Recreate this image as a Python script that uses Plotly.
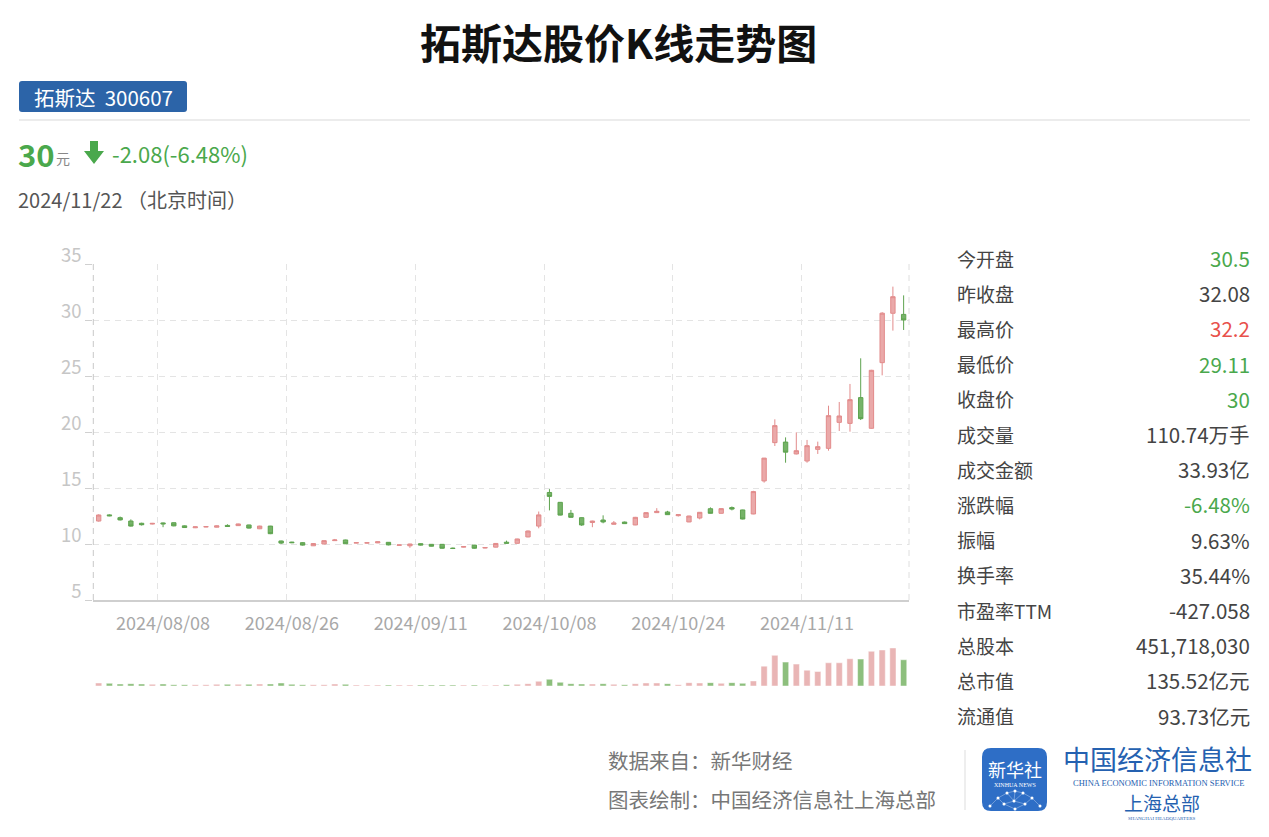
import plotly.graph_objects as go
import pandas as pd

W, H = 1269, 837

# ---------------- data ----------------
holidays = ["2024-09-16", "2024-09-17", "2024-10-01", "2024-10-02",
            "2024-10-03", "2024-10-04", "2024-10-07"]
dates = [d.strftime("%Y/%m/%d") for d in pd.bdate_range("2024-07-31", "2024-11-22")
         if d.strftime("%Y-%m-%d") not in holidays]

tick_dates = ["2024/08/08", "2024/08/26", "2024/09/11", "2024/10/08", "2024/10/24", "2024/11/11"]

opens = [12.05, 12.60, 12.35, 12.05, 11.85, 11.78, 11.88, 11.90, 11.62, 11.45,
         11.52, 11.50, 11.66, 11.64, 11.70, 11.36, 11.60, 10.27, 10.17, 10.12,
         9.84, 10.00, 10.30, 10.36, 10.08, 10.08, 10.10, 10.15, 9.88, 9.84,
         10.03, 9.97, 9.97, 9.63, 9.72, 9.90, 9.64, 9.72, 10.16, 10.06,
         10.63, 11.60, 14.60, 13.72, 12.74, 12.35, 11.92, 12.14, 11.76, 11.96,
         11.70, 12.38, 12.80, 12.86, 12.53, 11.97, 12.32, 13.15, 12.74, 13.25,
         13.04, 12.68, 15.63, 19.05, 19.10, 18.04, 17.41, 18.45, 18.54, 20.86,
         20.77, 23.07, 20.33, 26.19, 30.60, 30.50]
highs = [12.65, 12.65, 12.45, 12.20, 11.90, 11.88, 11.92, 11.92, 11.65, 11.55,
         11.57, 11.65, 11.76, 11.82, 11.72, 11.63, 11.62, 10.30, 10.20, 10.15,
         10.08, 10.32, 10.45, 10.38, 10.14, 10.13, 10.22, 10.17, 9.94, 10.02,
         10.05, 9.99, 9.99, 9.68, 9.80, 9.92, 9.70, 10.07, 10.30, 10.47,
         11.20, 12.90, 14.90, 13.75, 13.04, 12.37, 12.08, 12.56, 12.05, 12.00,
         12.42, 12.84, 13.20, 12.96, 12.64, 12.52, 12.85, 13.27, 13.18, 13.35,
         13.06, 14.75, 17.68, 21.13, 19.52, 19.97, 19.29, 19.14, 22.35, 22.68,
         24.29, 26.58, 25.55, 30.70, 32.98, 32.20]
lows = [12.00, 12.48, 12.10, 11.55, 11.65, 11.75, 11.50, 11.58, 11.44, 11.42,
        11.50, 11.48, 11.55, 11.62, 11.38, 11.33, 10.88, 10.00, 10.08, 9.86,
        9.82, 9.98, 10.28, 10.00, 10.06, 10.06, 10.08, 9.88, 9.86, 9.66,
        9.86, 9.78, 9.58, 9.55, 9.70, 9.58, 9.62, 9.70, 10.04, 10.04,
        10.60, 11.40, 13.00, 12.55, 12.36, 11.62, 11.50, 11.85, 11.74, 11.80,
        11.68, 12.36, 12.78, 12.60, 12.45, 11.95, 12.20, 12.72, 12.72, 13.00,
        12.20, 12.66, 15.48, 18.75, 17.26, 18.00, 17.26, 18.04, 18.33, 20.09,
        20.03, 21.07, 20.30, 25.06, 29.05, 29.11]
closes = [12.59, 12.52, 12.15, 11.60, 11.72, 11.84, 11.80, 11.62, 11.47, 11.53,
          11.55, 11.62, 11.57, 11.79, 11.42, 11.60, 10.92, 10.08, 10.12, 9.90,
          10.04, 10.30, 10.36, 10.02, 10.12, 10.11, 10.20, 9.92, 9.92, 10.00,
          9.90, 9.80, 9.62, 9.60, 9.77, 9.62, 9.68, 10.05, 10.07, 10.45,
          11.16, 12.60, 14.25, 12.58, 12.38, 11.70, 12.05, 11.97, 11.88, 11.82,
          12.38, 12.80, 12.92, 12.62, 12.62, 12.50, 12.83, 12.74, 13.16, 13.12,
          12.23, 14.68, 17.67, 20.57, 18.20, 18.33, 18.78, 18.69, 21.46, 21.43,
          22.89, 21.19, 25.51, 30.61, 32.08, 30.00]
# volume in 万手
volumes = [12.8, 11.4, 8.5, 9.9, 8.5, 7.1, 8.5, 5.7, 5.7, 5.7,
           5.7, 7.1, 7.1, 7.1, 7.1, 8.5, 8.5, 12.8, 7.1, 5.7,
           5.7, 5.7, 8.5, 7.1, 4.3, 4.3, 4.3, 4.3, 4.3, 4.3,
           4.3, 4.3, 4.3, 4.3, 4.3, 4.3, 2.8, 4.3, 5.7, 7.1,
           9.9, 19.9, 28.4, 15.6, 9.9, 8.5, 8.5, 9.9, 7.1, 5.7,
           9.9, 12.8, 12.8, 9.9, 5.7, 14.2, 12.8, 14.2, 11.4, 14.2,
           11.4, 21.3, 83.8, 129.2, 100.8, 92.3, 66.7, 61.1, 98.0, 98.0,
           115.0, 113.6, 146.3, 152.0, 160.5, 110.74]

table_labels = ["今开盘", "昨收盘", "最高价", "最低价", "收盘价", "成交量", "成交金额",
                "涨跌幅", "振幅", "换手率", "市盈率TTM", "总股本", "总市值", "流通值"]
table_values = ["30.5", "32.08", "32.2", "29.11", "30", "110.74万手", "33.93亿",
                "-6.48%", "9.63%", "35.44%", "-427.058", "451,718,030", "135.52亿元", "93.73亿元"]
table_kinds = ["down", "flat", "up", "down", "down", "flat", "flat",
               "down", "flat", "flat", "flat", "flat", "flat", "flat"]

# ---------------- styles ----------------
FONT = "Noto Sans CJK SC"
RED_FILL, RED_LINE = "#eaa9a9", "#e28b8b"
GREEN_FILL, GREEN_LINE = "#76b368", "#5ea34f"
VOL_RED, VOL_GREEN = "#e9b5b5", "#8dbf7d"
GREEN_TXT, RED_TXT = "#4aa84c", "#e8514b"
GRID = "#e4e4e4"
DASH = "6px,5px"


def px(x):
    return x / W


def py(y):
    return 1 - y / H


def rrect(x0, y0, x1, y1, r):
    pts = [("M", x0 + r, y0), ("L", x1 - r, y0), ("Q", x1, y0, x1, y0 + r),
           ("L", x1, y1 - r), ("Q", x1, y1, x1 - r, y1), ("L", x0 + r, y1),
           ("Q", x0, y1, x0, y1 - r), ("L", x0, y0 + r), ("Q", x0, y0, x0 + r, y0)]
    s = ""
    for p in pts:
        if p[0] == "Q":
            s += f"Q {px(p[1])},{py(p[2])} {px(p[3])},{py(p[4])} "
        else:
            s += f"{p[0]} {px(p[1])},{py(p[2])} "
    return s + "Z"


fig = go.Figure()

# helper trace so the grid-only overlay axis (x3) is drawn
fig.add_trace(go.Scatter(x=[0], y=[None], xaxis="x3", yaxis="y", mode="markers",
                         showlegend=False, hoverinfo="skip"))

fig.add_trace(go.Candlestick(
    x=dates, open=opens, high=highs, low=lows, close=closes,
    increasing=dict(line=dict(color=RED_LINE, width=1), fillcolor=RED_FILL),
    decreasing=dict(line=dict(color=GREEN_LINE, width=1), fillcolor=GREEN_FILL),
    whiskerwidth=0, xaxis="x", yaxis="y", showlegend=False, hoverinfo="x+y"))

vol_colors = [VOL_RED if c >= o else VOL_GREEN for o, c in zip(opens, closes)]
fig.add_trace(go.Bar(
    x=dates, y=volumes, marker=dict(color=vol_colors, line=dict(color="rgba(255,255,255,0.6)", width=0.8)),
    xaxis="x2", yaxis="y2", showlegend=False))

x_dom = [px(93.3), px(909)]
# band boundaries to the left of each labelled day (where the vertical grid lines sit)
grid_pos = [dates.index(d) - 0.5 for d in tick_dates]

fig.update_layout(
    width=W, height=H, autosize=False,
    margin=dict(l=0, r=0, t=0, b=0, pad=0, autoexpand=False),
    paper_bgcolor="white", plot_bgcolor="white",
    showlegend=False,
    font=dict(family=FONT, color="#444"),
    boxgap=0.42, bargap=0.42,
    xaxis=dict(domain=x_dom, anchor="y", type="category",
               categoryorder="array", categoryarray=dates,
               range=[-0.5, len(dates) - 0.5],
               tickmode="array", tickvals=tick_dates, ticktext=tick_dates,
               ticks="", tickangle=0, automargin=False, ticklabelstandoff=7,
               showgrid=False,
               showline=True, linecolor="#cfcfcf", linewidth=1.5,
               tickfont=dict(size=18, color="#a8a8a8", family=FONT),
               rangeslider=dict(visible=False), fixedrange=True),
    xaxis3=dict(overlaying="x", anchor="y", type="linear",
                range=[-0.5, len(dates) - 0.5],
                tickmode="array", tickvals=grid_pos, showticklabels=False, ticks="",
                showgrid=True, gridcolor=GRID, griddash=DASH, gridwidth=1,
                showline=False, zeroline=False, automargin=False, fixedrange=True),
    yaxis=dict(domain=[py(600), py(264)], anchor="x", range=[5, 35],
               tickmode="array", tickvals=[5, 10, 15, 20, 25, 30, 35],
               showgrid=True, gridcolor=GRID, griddash=DASH, gridwidth=1,
               zeroline=False, ticks="outside", ticklen=7, tickcolor="#d0d0d0",
               tickfont=dict(size=18.5, color="#c6c6c6", family=FONT),
               ticklabelshift=-8, automargin=False, fixedrange=True),
    xaxis2=dict(domain=x_dom, anchor="y2", type="category",
                categoryorder="array", categoryarray=dates, matches="x",
                showticklabels=False, showgrid=False, ticks="", showline=False,
                automargin=False),
    yaxis2=dict(domain=[py(686), py(645.7)], anchor="x2", range=[0, 170],
                visible=False, automargin=False, fixedrange=True),
)

shapes = []
# plot side borders (dashed)
shapes.append(dict(type="line", xref="paper", yref="paper", x0=px(93.3), x1=px(93.3),
                   y0=py(600), y1=py(264), line=dict(color="#c8c8c8", width=1, dash=DASH)))
shapes.append(dict(type="line", xref="paper", yref="paper", x0=px(909), x1=px(909),
                   y0=py(600), y1=py(264), line=dict(color="#dedede", width=1, dash=DASH)))
# badge
shapes.append(dict(type="path", xref="paper", yref="paper", path=rrect(19, 81, 187, 112, 3),
                   fillcolor="#2c64a8", line=dict(width=0)))
# separator
shapes.append(dict(type="line", xref="paper", yref="paper", x0=px(19), x1=px(1250),
                   y0=py(120), y1=py(120), line=dict(color="#e6e6e6", width=1.5)))
# green down arrow
arrow = [(90, 141), (98, 141), (98, 151), (104, 151), (94, 164), (84, 151), (90, 151)]
shapes.append(dict(type="path", xref="paper", yref="paper",
                   path="M " + " L ".join(f"{px(a)},{py(b)}" for a, b in arrow) + " Z",
                   fillcolor=GREEN_TXT, line=dict(width=0)))
# footer divider
shapes.append(dict(type="line", xref="paper", yref="paper", x0=px(965), x1=px(965),
                   y0=py(750), y1=py(810), line=dict(color="#dddddd", width=1)))
# logo square
shapes.append(dict(type="path", xref="paper", yref="paper", path=rrect(982, 748, 1047, 811, 9),
                   fillcolor="#2e6ec6", line=dict(width=0)))
# logo network
nodes = [(990, 806), (998, 798), (1007, 793), (1015, 791), (1023, 793), (1032, 798), (1040, 806),
         (1004, 804), (1014, 801), (1025, 804), (1015, 809)]
edges = [(0, 1), (1, 2), (2, 3), (3, 4), (4, 5), (5, 6), (1, 7), (2, 8), (4, 8), (5, 9),
         (7, 8), (8, 9), (7, 10), (9, 10), (3, 8)]
for a, b in edges:
    shapes.append(dict(type="line", xref="paper", yref="paper",
                       x0=px(nodes[a][0]), y0=py(nodes[a][1]), x1=px(nodes[b][0]), y1=py(nodes[b][1]),
                       line=dict(color="rgba(255,255,255,0.45)", width=0.7)))
for (a, b) in nodes:
    shapes.append(dict(type="circle", xref="paper", yref="paper",
                       x0=px(a - 1.5), x1=px(a + 1.5), y0=py(b + 1.5), y1=py(b - 1.5),
                       fillcolor="white", line=dict(width=0)))
fig.update_layout(shapes=shapes)

ann = []


def text(x, y, s, size, color="#444", anchor="left", family=FONT):
    ann.append(dict(x=px(x), y=py(y), xref="paper", yref="paper", text=s, showarrow=False,
                    xanchor=anchor, yanchor="middle", borderpad=0,
                    font=dict(size=size, color=color, family=family)))


text(618, 41, "<b>拓斯达股价K线走势图</b>", 41, "#111111", "center")
text(103, 97, "拓斯达  300607", 20.5, "white", "center")
text(17, 153, "<b>30</b>", 31, GREEN_TXT)
text(55, 158, "元", 14, "#888888")
text(111, 153, "-2.08(-6.48%)", 22, GREEN_TXT)
text(17, 199, "2024/11/22 （北京时间）", 20, "#555555")

for i, (lab, val, kind) in enumerate(zip(table_labels, table_values, table_kinds)):
    yy = 258 + i * 35.2
    col = GREEN_TXT if kind == "down" else (RED_TXT if kind == "up" else "#444444")
    text(956, yy, lab, 19, "#444444")
    text(1251, yy, val, 20.5, col, "right")

text(607, 760, "数据来自：新华财经", 20.5, "#777777")
text(607, 799, "图表绘制：中国经济信息社上海总部", 20.5, "#777777")

text(1014.5, 769, "新华社", 18, "white", "center")
text(1014.5, 785, "XINHUA NEWS", 6, "white", "center", "Liberation Serif")
text(1157, 758, "中国经济信息社", 27, "#2561b0", "center")
text(1158, 782.5, "CHINA ECONOMIC INFORMATION SERVICE", 8.5, "#2561b0", "center", "Liberation Serif")
text(1162, 802, "上海总部", 19, "#2561b0", "center")
text(1162, 818, "SHANGHAI HEADQUARTERS", 5, "#2561b0", "center", "Liberation Serif")

fig.update_layout(annotations=ann)

fig.write_html("out.html")
